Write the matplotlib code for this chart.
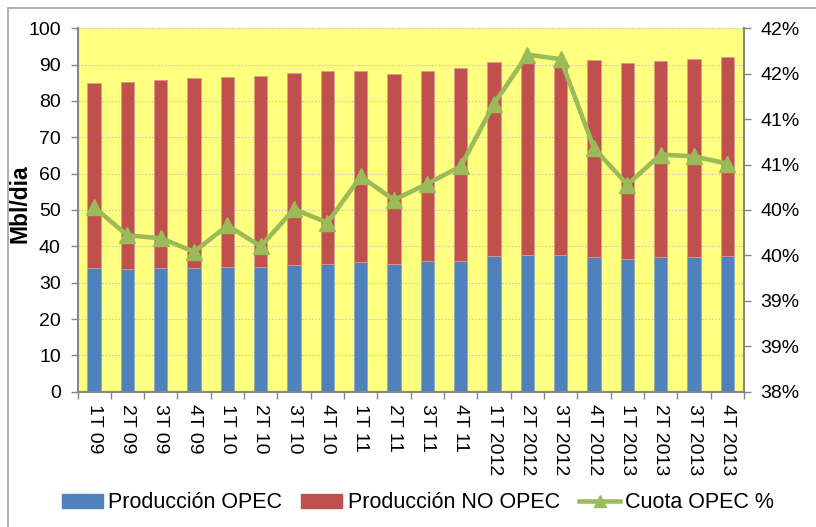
import math
import matplotlib
matplotlib.use("Agg")
import matplotlib.pyplot as plt
from matplotlib.ticker import FuncFormatter, MultipleLocator
from matplotlib.lines import Line2D
from matplotlib.patches import Patch

plt.rcParams['font.family'] = ['Liberation Sans', 'DejaVu Sans']

categories = ["1T 09", "2T 09", "3T 09", "4T 09", "1T 10", "2T 10", "3T 10", "4T 10",
              "1T 11", "2T 11", "3T 11", "4T 11", "1T 2012", "2T 2012", "3T 2012", "4T 2012",
              "1T 2013", "2T 2013", "3T 2013", "4T 2013"]
opec = [34.0, 33.9, 34.1, 34.1, 34.4, 34.4, 35.0, 35.2, 35.7, 35.2,
        35.9, 35.9, 37.3, 37.7, 37.7, 37.2, 36.5, 37.0, 37.2, 37.3]
total = [84.9, 85.1, 85.7, 86.2, 86.5, 86.9, 87.6, 88.2, 88.3, 87.4,
         88.3, 89.2, 90.6, 90.8, 90.2, 91.3, 90.4, 91.0, 91.5, 92.2]
no_opec = [t - o for t, o in zip(total, opec)]
cuota = [40.03, 39.72, 39.69, 39.54, 39.83, 39.60, 40.01, 39.86, 40.37, 40.11,
         40.29, 40.48, 41.17, 41.71, 41.66, 40.68, 40.28, 40.61, 40.59, 40.51]

BLUE = "#4F81BD"
RED = "#C0504D"
GREEN = "#9BBB59"
GRAY = "#868686"
TICK_FS = 14

fig = plt.figure(figsize=(8.16, 5.27), dpi=100)
ax = fig.add_axes([77.5/816, 1-391.7/527, (744-77.5)/816, (391.7-28.3)/527])
ax.set_facecolor("#FFFF80")

x = list(range(len(categories)))
ax.bar(x, opec, width=0.4, color=BLUE, edgecolor="#8EA9C8", linewidth=0.6, zorder=2)
ax.bar(x, no_opec, bottom=opec, width=0.4, color=RED, edgecolor="#D99A8E", linewidth=0.6, zorder=2)

ax.set_xlim(-0.5, len(categories) - 0.5)
ax.set_ylim(0, 100)
ax.yaxis.set_major_locator(MultipleLocator(10))
ax.grid(axis='y', color="#C8C8C8", linestyle=(0, (1.5, 1.5)), linewidth=0.8, zorder=0)
ax.set_axisbelow(True)

ax.set_xticks(x)
ax.set_xticklabels(categories, rotation=-90, fontsize=TICK_FS, va='top')
ax.set_xticks([i - 0.5 for i in range(len(categories) + 1)], minor=True)
ax.tick_params(axis='x', which='major', length=0, pad=9)
ax.tick_params(axis='x', which='minor', length=5, color=GRAY, width=1)
ax.tick_params(axis='y', length=5, color=GRAY, width=1, labelsize=TICK_FS, pad=7)

for s in ['top', 'right']:
    ax.spines[s].set_visible(False)
for s in ['left', 'bottom']:
    ax.spines[s].set_color(GRAY)
    ax.spines[s].set_linewidth(1.5)

ax.set_ylabel("Mbl/dia", fontsize=16.5, fontweight='bold')
ax.yaxis.set_label_coords((32 - 77.5) / 666.5, (391.7 - 204) / 363.4)

ax2 = ax.twinx()
ax2.plot(x, cuota, color=GREEN, linewidth=3.3, marker='^', markersize=11,
         markerfacecolor=GREEN, markeredgecolor=GREEN, zorder=5)
ax2.set_ylim(38, 42)
ax2.yaxis.set_major_locator(MultipleLocator(0.5))
ax2.yaxis.set_major_formatter(FuncFormatter(lambda v, p: "%d%%" % int(math.floor(v + 0.5))))
ax2.tick_params(axis='y', length=5, color=GRAY, width=1, labelsize=TICK_FS, pad=7)
for s in ['top', 'left', 'bottom']:
    ax2.spines[s].set_visible(False)
ax2.spines['right'].set_color(GRAY)
ax2.spines['right'].set_linewidth(1.5)

handles = [Patch(facecolor=BLUE, edgecolor=BLUE),
           Patch(facecolor=RED, edgecolor=RED),
           Line2D([0], [0], color=GREEN, linewidth=3.3, marker='^', markersize=9)]
labels = ["Producción OPEC", "Producción NO OPEC", "Cuota OPEC %"]
fig.legend(handles, labels, loc='center', bbox_to_anchor=(418/816, 1-503/527), ncol=3,
           frameon=False, fontsize=15.5, handlelength=1.9, handleheight=0.6,
           columnspacing=0.9, handletextpad=0.25)

# outer border (left and top visible)
fig.add_artist(Line2D([8/816, 8/816], [0, 1-8/527], color="#A0A0A0", linewidth=1.2, transform=fig.transFigure))
fig.add_artist(Line2D([8/816, 1], [1-8/527, 1-8/527], color="#A0A0A0", linewidth=1.2, transform=fig.transFigure))

fig.savefig("out.png", dpi=100)
